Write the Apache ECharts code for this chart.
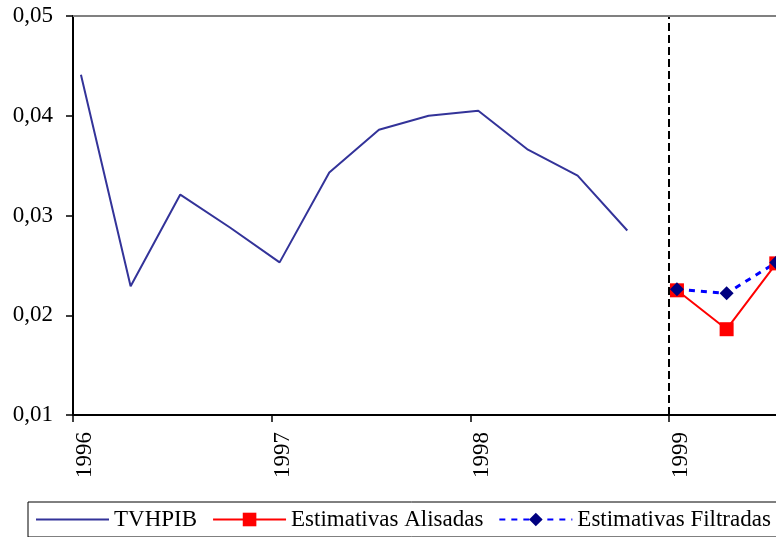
<!DOCTYPE html>
<html>
<head>
<meta charset="utf-8">
<script src="https://cdn.jsdelivr.net/npm/echarts@6/dist/echarts.min.js"></script>
<style>
  html, body { margin: 0; padding: 0; background: #fff; overflow: hidden; }
  /* the original plot continues past the right edge of the picture */
  #chart { width: 820px; height: 537px; }
</style>
</head>
<body>
<div id="chart"></div>
<script>
// quarterly observations, x given in fractional years
const obsX = [1996.04, 1996.29, 1996.54, 1996.79, 1997.04, 1997.29, 1997.54, 1997.79, 1998.04, 1998.29, 1998.54, 1998.79];
const tvhpib = [0.0441, 0.0229, 0.0321, 0.0288, 0.0253, 0.0343, 0.0386, 0.0400, 0.0405, 0.0366, 0.0340, 0.0285];
const estX = [1999.04, 1999.29, 1999.54];
const alisadas = [0.0225, 0.0186, 0.0252];
const filtradas = [0.0226, 0.0222, 0.0253];
const yTicks = [0.01, 0.02, 0.03, 0.04, 0.05];
const breakYear = 1999;

const font = "'Times New Roman', 'Liberation Serif', serif";
const pair = (xs, ys) => xs.map((x, i) => [x, ys[i]]);

const chart = echarts.init(document.getElementById("chart"));
const option = {
  animation: false,
  textStyle: { fontFamily: font },
  grid: { left: 73, top: 16, right: 0, bottom: 122 },
  legend: {
    left: 28,
    top: 502,
    padding: [6, 24, 6, 8],
    borderColor: "#000",
    borderWidth: 1,
    itemWidth: 73,
    itemHeight: 17,
    itemGap: 15,
    textStyle: { fontFamily: font, fontSize: 23, color: "#000" },
    data: [
      { name: "TVHPIB", icon: "path://M0,0 H73 V2 H0 Z" },
      "Estimativas Alisadas",
      "Estimativas Filtradas",
    ],
  },
  xAxis: {
    type: "value",
    min: 1996,
    max: 1999.76,
    interval: 1,
    splitLine: { show: false },
    axisLine: { lineStyle: { color: "#000", width: 2 } },
    axisTick: { inside: false, length: 7, lineStyle: { color: "#000", width: 1.5 } },
    axisLabel: {
      rotate: 90,
      margin: 17,
      verticalAlign: "top",
      showMaxLabel: false,
      fontSize: 23,
      fontFamily: font,
      color: "#000",
      formatter: (v) => (Number.isInteger(v) ? String(v) : ""),
    },
  },
  yAxis: {
    type: "value",
    min: yTicks[0],
    max: yTicks[yTicks.length - 1],
    interval: 0.01,
    splitLine: { show: false },
    axisLine: { show: true, lineStyle: { color: "#000", width: 2 } },
    axisTick: { show: true, inside: false, length: 7, lineStyle: { color: "#000", width: 1.5 } },
    axisLabel: {
      margin: 20,
      fontSize: 23,
      fontFamily: font,
      color: "#000",
      formatter: (v) => v.toFixed(2).replace(".", ","),
    },
  },
  series: [
    {
      name: "TVHPIB",
      type: "line",
      symbol: "none",
      color: "#333399",
      lineStyle: { color: "#333399", width: 2 },
      data: pair(obsX, tvhpib),
      markLine: {
        silent: true,
        symbol: ["none", "none"],
        label: { show: false },
        data: [
          { xAxis: breakYear, lineStyle: { color: "#000", width: 2, type: [8, 4] } },
          { yAxis: yTicks[yTicks.length - 1], lineStyle: { color: "#808080", width: 2, type: "solid" } },
        ],
      },
    },
    {
      name: "Estimativas Alisadas",
      type: "line",
      symbol: "rect",
      symbolSize: 14,
      color: "#ff0000",
      itemStyle: { color: "#ff0000" },
      lineStyle: { color: "#ff0000", width: 2 },
      data: pair(estX, alisadas),
    },
    {
      name: "Estimativas Filtradas",
      type: "line",
      symbol: "diamond",
      symbolSize: 14,
      color: "#000080",
      itemStyle: { color: "#000080" },
      lineStyle: { color: "#0000ff", width: 3, type: [6, 6] },
      data: pair(estX, filtradas),
    },
  ],
};
chart.setOption(option);
</script>
</body>
</html>
